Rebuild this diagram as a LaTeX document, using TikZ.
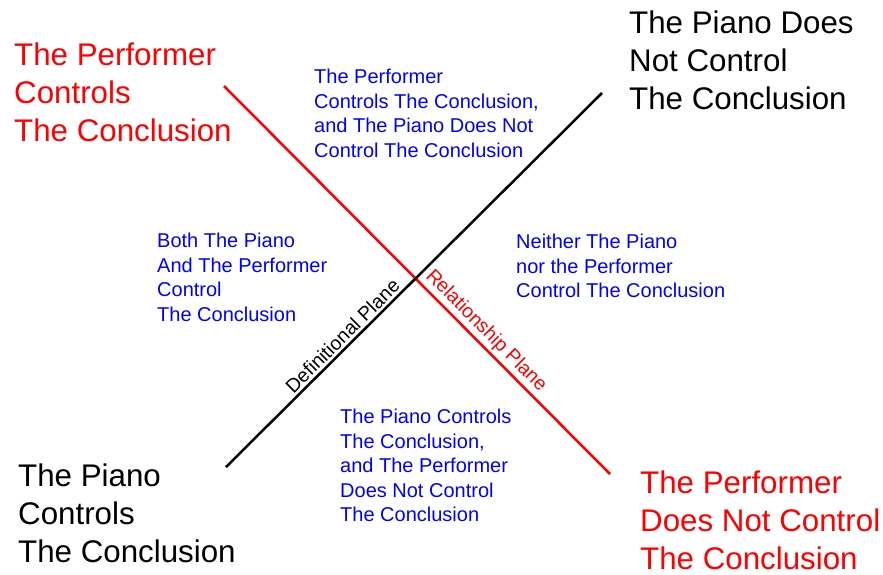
\documentclass[tikz,border=0pt]{standalone}
\usepackage{fontspec}
\setmainfont{Liberation Sans}
\definecolor{regionblue}{RGB}{0,0,255}
\definecolor{relred}{RGB}{255,0,0}
\begin{document}
\begin{tikzpicture}[x=1pt,y=-1pt,
  corner/.style={anchor=north west, inner sep=0pt, align=left,
    font=\fontsize{31.3}{38}\selectfont},
  region/.style={anchor=north west, inner sep=0pt, align=left,
    text=regionblue, font=\fontsize{20}{24.5}\selectfont},
  plane/.style={line width=2.5pt},
  planelabel/.style={sloped, above, inner sep=2.5pt,
    font=\fontsize{19.5}{22}\selectfont}]
\useasboundingbox (0,0) rectangle (883,574);

% the two planes
\coordinate (relA) at (224,86);
\coordinate (relB) at (610,474);
\coordinate (defA) at (226,467);
\coordinate (defB) at (602,93);
\draw[plane, relred] (relA) -- node[planelabel, pos=0.655] (rellabel) {Relationship Plane} (relB);
\draw[plane, black] (defA) -- node[planelabel, pos=0.33] (deflabel) {Definitional Plane} (defB);

% ends of the planes
\node[corner, text=relred] (perfyes) at (14,43) {The Performer\\Controls\\The Conclusion};
\node[corner, text=black] (pianono) at (629,11) {The Piano Does\\Not Control\\The Conclusion};
\node[corner, text=black] (pianoyes) at (18,464) {The Piano\\Controls\\The Conclusion};
\node[corner, text=relred] (perfno) at (640,471) {The Performer\\Does Not Control\\The Conclusion};

% the four quadrants
\node[region] (qtop) at (314,69) {The Performer\\Controls The Conclusion,\\and The Piano Does Not\\Control The Conclusion};
\node[region] (qleft) at (157,233) {Both The Piano\\And The Performer\\Control\\The Conclusion};
\node[region] (qright) at (516,234) {Neither The Piano\\nor the Performer\\Control The Conclusion};
\node[region] (qbottom) at (340,409) {The Piano Controls\\The Conclusion,\\and The Performer\\Does Not Control\\The Conclusion};
\end{tikzpicture}
\end{document}
